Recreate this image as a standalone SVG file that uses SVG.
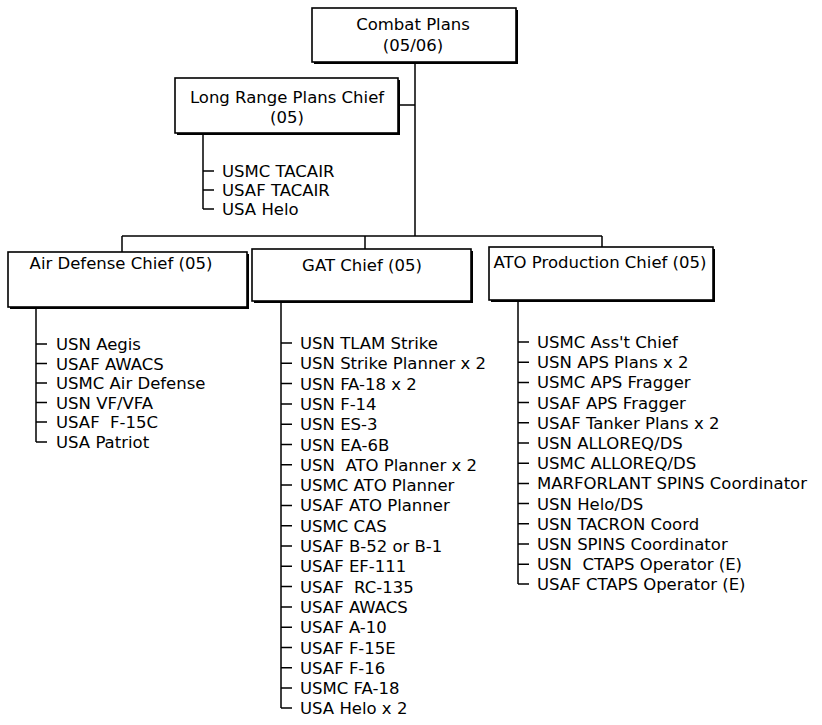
<svg xmlns="http://www.w3.org/2000/svg" width="822" height="725" viewBox="0 0 822 725">
<style>
  text { font-family: "DejaVu Sans", "Liberation Sans", sans-serif; font-size: 16.5px; fill: #000; white-space: pre; }
  .c { text-anchor: middle; }
  .box { fill: #fff; stroke: #000; stroke-width: 1.6; }
  .shadow { fill: none; stroke: #000; stroke-width: 2; }
  .ln { fill: none; stroke: #000; stroke-width: 1.5; }
</style>
<rect width="822" height="725" fill="#fff"/>

<g id="connectors">
  <path class="ln" d="M415,62 V236 M398,105 H415 M122,236 H602 M122,236 V252 M365,236 V249 M602,236 V247"/>
  <!-- LRP list -->
  <path class="ln" d="M203,133 V209 M203,171 H214 M203,190 H214 M203,209 H214"/>
  <!-- Air Defense list -->
  <path class="ln" d="M36,307 V442 M36,344 H47 M36,363.5 H47 M36,383 H47 M36,402.5 H47 M36,422 H47 M36,442 H47"/>
  <!-- GAT list -->
  <path class="ln" d="M281,301 V708 M281,343 H292 M281,363.3 H292 M281,383.6 H292 M281,403.9 H292 M281,424.2 H292 M281,444.5 H292 M281,464.8 H292 M281,485.1 H292 M281,505.4 H292 M281,525.7 H292 M281,546 H292 M281,566.3 H292 M281,586.6 H292 M281,606.9 H292 M281,627.2 H292 M281,647.5 H292 M281,667.8 H292 M281,688.1 H292 M281,708 H292"/>
  <!-- ATO list -->
  <path class="ln" d="M518,300 V584 M518,342 H529 M518,362.2 H529 M518,382.4 H529 M518,402.6 H529 M518,422.8 H529 M518,443 H529 M518,463.2 H529 M518,483.4 H529 M518,503.6 H529 M518,523.8 H529 M518,544 H529 M518,564.2 H529 M518,584 H529"/>
</g>

<g id="combat-plans">
  <rect class="box" x="312" y="8" width="204" height="54"/>
  <path class="shadow" d="M517,10 V63 H314"/>
  <text class="c" x="413" y="30">Combat Plans</text>
  <text class="c" x="413" y="51">(05/06)</text>
</g>

<g id="long-range-plans">
  <rect class="box" x="175" y="78" width="223" height="55"/>
  <path class="shadow" d="M399,80 V134 H177"/>
  <text class="c" x="287" y="103">Long Range Plans Chief</text>
  <text class="c" x="287" y="123">(05)</text>
  <text x="222" y="177">USMC TACAIR</text>
  <text x="222" y="196">USAF TACAIR</text>
  <text x="222" y="215">USA Helo</text>
</g>

<g id="air-defense">
  <rect class="box" x="8" y="252" width="239" height="55"/>
  <path class="shadow" d="M248,254 V308 H10"/>
  <text class="c" x="121" y="269">Air Defense Chief (05)</text>
  <text x="56" y="350">USN Aegis</text>
  <text x="56" y="369.5">USAF AWACS</text>
  <text x="56" y="389">USMC Air Defense</text>
  <text x="56" y="408.5">USN VF/VFA</text>
  <text x="56" y="428">USAF  F-15C</text>
  <text x="56" y="448">USA Patriot</text>
</g>

<g id="gat">
  <rect class="box" x="252" y="249" width="219" height="52"/>
  <path class="shadow" d="M472,251 V302 H254"/>
  <text class="c" x="362" y="271">GAT Chief (05)</text>
  <text x="300" y="349">USN TLAM Strike</text>
  <text x="300" y="369.3">USN Strike Planner x 2</text>
  <text x="300" y="389.6">USN FA-18 x 2</text>
  <text x="300" y="409.9">USN F-14</text>
  <text x="300" y="430.2">USN ES-3</text>
  <text x="300" y="450.5">USN EA-6B</text>
  <text x="300" y="470.8">USN  ATO Planner x 2</text>
  <text x="300" y="491.1">USMC ATO Planner</text>
  <text x="300" y="511.4">USAF ATO Planner</text>
  <text x="300" y="531.7">USMC CAS</text>
  <text x="300" y="552">USAF B-52 or B-1</text>
  <text x="300" y="572.3">USAF EF-111</text>
  <text x="300" y="592.6">USAF  RC-135</text>
  <text x="300" y="612.9">USAF AWACS</text>
  <text x="300" y="633.2">USAF A-10</text>
  <text x="300" y="653.5">USAF F-15E</text>
  <text x="300" y="673.8">USAF F-16</text>
  <text x="300" y="694.1">USMC FA-18</text>
  <text x="300" y="714">USA Helo x 2</text>
</g>

<g id="ato-production">
  <rect class="box" x="489" y="247" width="224" height="53"/>
  <path class="shadow" d="M714,249 V301 H491"/>
  <text class="c" x="600" y="268">ATO Production Chief (05)</text>
  <text x="537" y="348">USMC Ass't Chief</text>
  <text x="537" y="368.2">USN APS Plans x 2</text>
  <text x="537" y="388.4">USMC APS Fragger</text>
  <text x="537" y="408.6">USAF APS Fragger</text>
  <text x="537" y="428.8">USAF Tanker Plans x 2</text>
  <text x="537" y="449">USN ALLOREQ/DS</text>
  <text x="537" y="469.2">USMC ALLOREQ/DS</text>
  <text x="537" y="489.4">MARFORLANT SPINS Coordinator</text>
  <text x="537" y="509.6">USN Helo/DS</text>
  <text x="537" y="529.8">USN TACRON Coord</text>
  <text x="537" y="550">USN SPINS Coordinator</text>
  <text x="537" y="570.2">USN  CTAPS Operator (E)</text>
  <text x="537" y="590">USAF CTAPS Operator (E)</text>
</g>
</svg>
